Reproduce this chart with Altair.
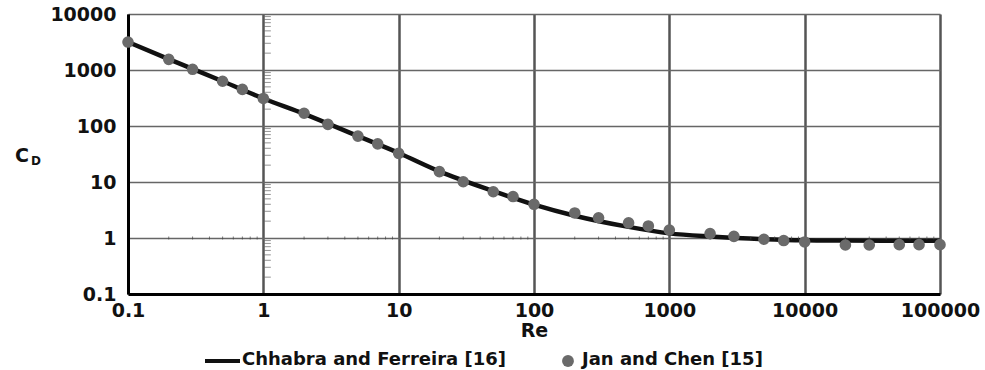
import altair as alt
import pandas as pd

# Jan and Chen [15] data points
re_pts = [0.1, 0.2, 0.3, 0.5, 0.7, 1, 2, 3, 5, 7, 10, 20, 30, 50, 70, 100,
          200, 300, 500, 700, 1000, 2000, 3000, 5000, 7000, 10000,
          20000, 30000, 50000, 70000, 100000]
cd_pts = [3160, 1550, 1030, 630, 450, 310, 169, 107, 66, 48, 32.5, 15.3, 10.1, 6.7, 5.5, 4.0,
          2.8, 2.3, 1.86, 1.64, 1.39, 1.2, 1.07, 0.95, 0.9, 0.85,
          0.75, 0.75, 0.76, 0.76, 0.76]

# Chhabra and Ferreira [16] curve
re_curve = [0.1, 0.2, 0.5, 1, 2, 5, 10, 20, 50, 100, 200, 500, 1000, 2000,
            5000, 10000, 20000, 50000, 100000]
cd_curve = [3160, 1560, 630, 310, 165, 66, 33, 15.5, 6.9, 3.95, 2.5, 1.58, 1.21, 1.06,
            0.95, 0.91, 0.9, 0.89, 0.89]

x_ticks = [0.1, 1, 10, 100, 1000, 10000, 100000]
y_ticks = [0.1, 1, 10, 100, 1000, 10000]

minor_x = [0.2, 0.3, 0.4, 0.5, 0.6, 0.7, 0.8, 0.9,
           2, 3, 4, 5, 6, 7, 8, 9,
           20, 30, 40, 50, 60, 70, 80, 90,
           200, 300, 400, 500, 600, 700, 800, 900,
           2000, 3000, 4000, 5000, 6000, 7000, 8000, 9000,
           20000, 30000, 40000, 50000, 60000, 70000, 80000, 90000]
minor_y = [0.2, 0.3, 0.4, 0.5, 0.6, 0.7, 0.8, 0.9,
           2, 3, 4, 5, 6, 7, 8, 9,
           20, 30, 40, 50, 60, 70, 80, 90,
           200, 300, 400, 500, 600, 700, 800, 900,
           2000, 3000, 4000, 5000, 6000, 7000, 8000, 9000]

legend_labels = ["Chhabra and Ferreira [16]", "Jan and Chen [15]"]

FONT = "DejaVu Sans"
W, H = 812, 280

pts = pd.DataFrame({"Re": re_pts, "CD": cd_pts})
curve = pd.DataFrame({"Re": re_curve, "CD": cd_curve})
mx = pd.DataFrame({"Re": minor_x, "CD": [1] * len(minor_x)})
my = pd.DataFrame({"Re": [1] * len(minor_y), "CD": minor_y})

xscale = alt.Scale(type="log", domain=[0.1, 100000], nice=False)
yscale = alt.Scale(type="log", domain=[0.1, 10000], nice=False)

xenc = alt.X("Re:Q", scale=xscale,
             axis=alt.Axis(values=x_ticks, format="~g", title="Re",
                           grid=True, gridColor="#555555", gridWidth=2.5,
                           tickSize=0, labelPadding=7, titlePadding=1,
                           domainColor="#000000", domainWidth=3,
                           labelFont=FONT, labelFontSize=19, labelFontWeight="bold",
                           labelColor="#111111", labelFlush=False,
                           titleFont=FONT, titleFontSize=19, titleFontWeight="bold",
                           titleColor="#111111"))
yenc = alt.Y("CD:Q", scale=yscale,
             axis=alt.Axis(values=y_ticks, format="~g", title=None,
                           grid=True, gridColor="#666666", gridWidth=1.5,
                           tickSize=0, labelPadding=12,
                           domainColor="#000000", domainWidth=3,
                           labelFont=FONT, labelFontSize=19, labelFontWeight="bold",
                           labelColor="#111111", labelFlush=False))

base_minor_x = alt.Chart(mx).mark_tick(orient="vertical", size=3, thickness=1,
                                       color="#444444").encode(
    x=alt.X("Re:Q", scale=xscale), y=alt.Y("CD:Q", scale=yscale))
base_minor_y = alt.Chart(my).mark_tick(orient="horizontal", size=7, thickness=1,
                                       color="#666666", xOffset=4).encode(
    x=alt.X("Re:Q", scale=xscale), y=alt.Y("CD:Q", scale=yscale))

line = alt.Chart(curve).mark_line(color="#111111", strokeWidth=4.5,
                                  interpolate="monotone").encode(x=xenc, y=yenc)
points = alt.Chart(pts).mark_point(filled=True, color="#6a6a6a", size=135,
                                   opacity=1, clip=False).encode(
    x=alt.X("Re:Q", scale=xscale), y=alt.Y("CD:Q", scale=yscale))

ytitle_c = alt.Chart(pd.DataFrame({"t": ["C"]})).mark_text(
    font=FONT, fontSize=19, fontWeight="bold", color="#111111", align="center",
    baseline="middle").encode(text="t:N", x=alt.value(-106), y=alt.value(142))
ytitle_d = alt.Chart(pd.DataFrame({"t": ["D"]})).mark_text(
    font=FONT, fontSize=12, fontWeight="bold", color="#111111", align="center",
    baseline="middle").encode(text="t:N", x=alt.value(-92), y=alt.value(147))

leg_line = alt.Chart(pd.DataFrame({"a": [0]})).mark_rule(
    color="#111111", strokeWidth=4).encode(
    x=alt.value(77), x2=alt.value(112), y=alt.value(347))
leg_t1 = alt.Chart(pd.DataFrame({"t": [legend_labels[0]]})).mark_text(
    font=FONT, fontSize=18, fontWeight="bold", color="#111111", align="left",
    baseline="middle").encode(text="t:N", x=alt.value(114), y=alt.value(346))
leg_pt = alt.Chart(pd.DataFrame({"a": [0]})).mark_point(
    filled=True, color="#6a6a6a", size=140, opacity=1).encode(
    x=alt.value(440), y=alt.value(347))
leg_t2 = alt.Chart(pd.DataFrame({"t": [legend_labels[1]]})).mark_text(
    font=FONT, fontSize=18, fontWeight="bold", color="#111111", align="left",
    baseline="middle").encode(text="t:N", x=alt.value(454), y=alt.value(346))

chart = alt.layer(
    line, base_minor_x, base_minor_y, points,
    ytitle_c, ytitle_d, leg_line, leg_t1, leg_pt, leg_t2
).properties(
    width=W, height=H,
    autosize=alt.AutoSizeParams(type="none"),
    padding={"left": 128, "top": 14, "right": 45, "bottom": 76},
).configure_view(
    stroke="#000000", strokeWidth=2.5
).configure(background="white")

chart.save("out.html", embed_options={"renderer": "svg", "actions": False})
